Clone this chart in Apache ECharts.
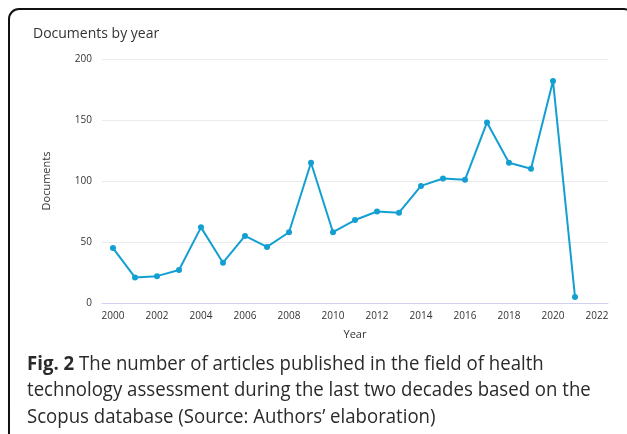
<!DOCTYPE html>
<html><head><meta charset="utf-8">
<script src="https://cdn.jsdelivr.net/npm/echarts@6/dist/echarts.min.js"></script>
<style>html,body{margin:0;padding:0;background:#fff}#c{width:627px;height:434px}</style>
</head><body><div id="c"></div>
<script>
var years = ['2000','2001','2002','2003','2004','2005','2006','2007','2008','2009','2010','2011','2012','2013','2014','2015','2016','2017','2018','2019','2020','2021','2022'];
var documents = [45,21,22,27,62,33,55,46,58,115,58,68,75,74,96,102,101,148,115,110,182,5,null];
var yTicks = [0,50,100,150,200];
var chartTitle = 'Documents by year';
var captionBold = 'Fig. 2';
var captionLines = [' The number of articles published in the field of health','technology assessment during the last two decades based on the','Scopus database (Source: Authors\u2019 elaboration)'];

var chart = echarts.init(document.getElementById('c'));
var F = '"Open Sans", sans-serif';
var CS = 20, SX = 0.93;
function capLine(y, style){
  return {type:'text',x:27,y:y,scaleX:SX,style:Object.assign({x:0,y:0,verticalAlign:'middle',textVerticalAlign:'middle',fill:'#2a2a2a'},style)};
}
chart.setOption({
  animation:false,
  backgroundColor:'#fff',
  title:{text:chartTitle,left:28,top:22,textStyle:{fontFamily:F,fontSize:14,fontWeight:'normal',color:'#333'}},
  grid:{left:102,right:19,top:59,bottom:131},
  xAxis:{type:'category',data:years,boundaryGap:true,
    name:'Year',nameLocation:'middle',nameGap:26,nameTextStyle:{fontFamily:F,fontSize:11,color:'#333'},
    axisLine:{lineStyle:{color:'#cfd0ee',width:1}},axisTick:{show:false},
    axisLabel:{interval:1,fontFamily:F,fontSize:10,color:'#333',margin:8}},
  yAxis:{type:'value',min:yTicks[0],max:yTicks[yTicks.length-1],interval:50,
    name:'Documents',nameLocation:'middle',nameGap:50,nameTextStyle:{fontFamily:F,fontSize:11,color:'#333'},
    axisLine:{show:false},axisTick:{show:false},
    axisLabel:{fontFamily:F,fontSize:10,color:'#333',margin:10},
    splitLine:{lineStyle:{color:'#ebebeb'}}},
  series:[{type:'line',data:documents,symbol:'circle',symbolSize:6,
    lineStyle:{color:'#139fd2',width:2},itemStyle:{color:'#139fd2'}}],
  graphic:[
    {type:'rect',shape:{x:9,y:9,width:625,height:500,r:10},style:{fill:'none',stroke:'#111',lineWidth:2},silent:true,z:-1},
    capLine(364,{rich:{b:{fontFamily:F,fontSize:CS,fontWeight:'bold',fill:'#2a2a2a'},n:{fontFamily:F,fontSize:CS,fill:'#2a2a2a'}},
      text:'{b|'+captionBold+'}{n|'+captionLines[0]+'}'}),
    capLine(390,{text:captionLines[1],fontFamily:F,fontSize:CS}),
    capLine(417,{text:captionLines[2],fontFamily:F,fontSize:CS})
  ]
});
</script></body></html>
